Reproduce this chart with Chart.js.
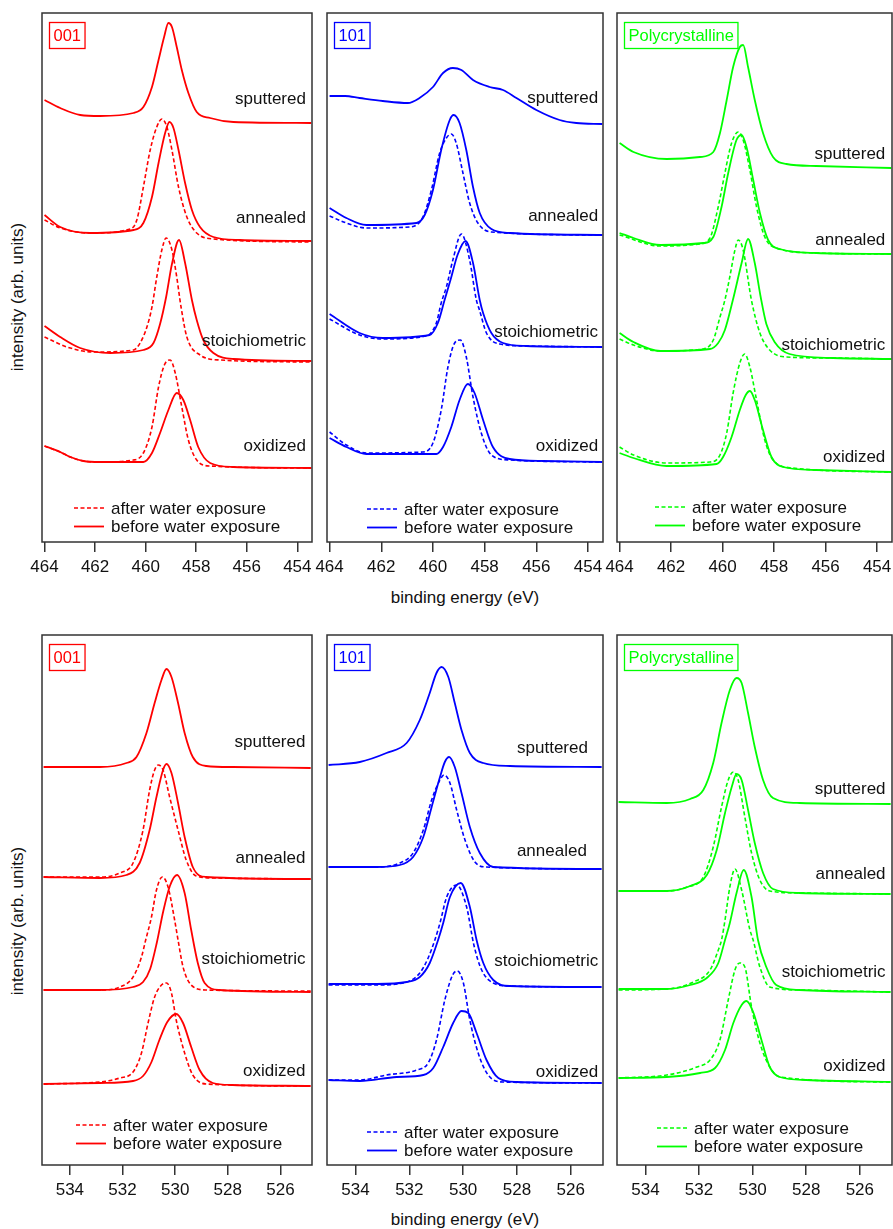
<!DOCTYPE html>
<html>
<head>
<meta charset="utf-8">
<script src="https://cdn.jsdelivr.net/npm/chart.js@4.4.1/dist/chart.umd.min.js"></script>
<style>
  html, body { margin: 0; padding: 0; background: #fff; overflow: hidden; }
  body { width: 893px; height: 1229px; position: relative; font-family: 'Liberation Sans', Arial, sans-serif; }
  canvas { position: absolute; }
  .xtitle, .ytitle { position: absolute; font-size: 17px; color: #111; white-space: nowrap; }
  .xtitle { transform: translate(-50%, -50%); }
  .ytitle { transform: translate(-50%, -50%) rotate(-90deg); }
</style>
</head>
<body>
<div class="ytitle" style="left:18px;top:297px">intensity (arb. units)</div>
<div class="ytitle" style="left:18px;top:921px">intensity (arb. units)</div>
<div class="xtitle" style="left:465px;top:598px">binding energy (eV)</div>
<div class="xtitle" style="left:465px;top:1220px">binding energy (eV)</div>
<script>
const FONT = "'Liberation Sans', Arial, sans-serif";
const RED = '#ff0000', BLUE = '#0000ff', GREEN = '#00ff00';

const tiTicks = [464, 462, 460, 458, 456, 454];
const oTicks = [534, 532, 530, 528, 526];
const sampleNames = ['sputtered', 'annealed', 'stoichiometric', 'oxidized'];
const legendNames = ['after water exposure', 'before water exposure'];

// Ti 2p spectra, [binding energy, intensity incl. offset]
const ti001Sputtered = [[464,442],[463.38,434],[462.59,427],[461.8,426],[460.48,429],[460.09,435],[459.75,455],[459.49,482],[459.27,505],[459.1,519],[458.96,515],[458.77,495],[458.57,472],[458.31,449],[457.98,430],[457.45,424],[456.53,420],[453.45,419]];
const ti001AnnealedBefore = [[464,327],[463.38,315],[462.19,309],[460.48,312],[460.09,319],[459.75,345],[459.49,379],[459.23,409],[459.06,420],[458.9,414],[458.7,392],[458.44,359],[458.17,332],[457.85,315],[457.32,305],[456.26,302],[453.45,301]];
const ti001AnnealedAfter = [[464,322],[463.38,314],[462.19,309],[460.61,313],[460.35,322],[460.09,355],[459.82,392],[459.56,415],[459.36,423],[459.16,415],[458.96,392],[458.7,355],[458.37,325],[457.98,309],[457.32,303],[453.45,300]];
const ti001StoichBefore = [[464,216],[463.38,205],[462.59,194],[461.4,189],[460.09,192],[459.69,199],[459.43,218],[459.19,245],[458.96,278],[458.68,302],[458.44,279],[458.17,242],[457.98,222],[457.72,202],[457.32,189],[456.53,183],[453.45,181]];
const ti001StoichAfter = [[464,205],[463.11,195],[462.06,190],[460.48,192],[460.22,199],[459.95,215],[459.75,235],[459.56,265],[459.36,292],[459.19,304],[458.96,292],[458.77,265],[458.6,235],[458.37,205],[457.85,187],[457.06,182],[453.45,180]];
const ti001OxidizedBefore = [[464,96],[463.38,90],[462.98,85],[462.46,81],[461.8,80],[460.09,80],[459.75,89],[459.43,109],[459.1,132],[458.77,149],[458.51,142],[458.24,122],[457.92,95],[457.45,79],[456.53,75],[453.45,74]];
const ti001OxidizedAfter = [[464,96],[463.38,90],[462.98,85],[462.46,81],[461.8,80],[460.48,82],[460.09,89],[459.75,115],[459.49,155],[459.26,177],[459.03,182],[458.83,169],[458.57,135],[458.31,102],[457.98,82],[457.45,76],[453.45,74]];

const ti101Sputtered = [[464,446],[463.4,446],[462.84,444],[461.94,441],[460.97,439],[460.52,444],[460.0,455],[459.61,469],[459.23,474],[458.9,472],[458.45,462],[457.81,455],[457.29,452],[456.77,444],[456.0,432],[455.1,422],[454.45,419],[453.45,418]];
const ti101AnnealedBefore = [[464,334],[463.35,324],[462.58,317],[460.64,319],[460.32,327],[460.0,352],[459.68,392],[459.35,422],[459.2,427],[458.97,419],[458.71,392],[458.45,355],[458.19,329],[457.74,313],[457.03,309],[453.45,307]];
const ti101AnnealedAfter = [[464,326],[463.35,319],[462.58,314],[460.9,315],[460.39,325],[460.06,352],[459.74,389],[459.48,404],[459.29,408],[459.1,399],[458.84,369],[458.58,339],[458.26,319],[457.74,310],[453.45,307]];
const ti101StoichBefore = [[464,228],[462.84,209],[461.94,204],[460.13,207],[459.81,219],[459.55,242],[459.3,264],[459.05,287],[458.74,301],[458.45,279],[458.19,242],[458.06,229],[457.74,209],[457.29,199],[456.38,196],[453.45,195]];
const ti101StoichAfter = [[464,223],[462.84,207],[461.94,203],[460.26,206],[459.87,219],[459.68,239],[459.48,255],[459.23,282],[458.9,308],[458.58,282],[458.32,242],[458.2,232],[457.93,209],[457.42,198],[456.38,196],[453.45,195]];
const ti101OxidizedBefore = [[464,104],[463.35,95],[462.58,88],[459.87,88],[459.61,95],[459.29,115],[458.97,142],[458.65,158],[458.39,149],[458.06,122],[457.68,95],[457.03,83],[455.74,81],[453.45,80]];
const ti101OxidizedAfter = [[464,110],[463.35,97],[462.58,89],[460.39,90],[460.0,99],[459.68,132],[459.42,175],[459.16,199],[458.94,202],[458.71,185],[458.45,145],[458.13,109],[457.74,87],[457.03,82],[453.45,80]];

const tiPolySputtered = [[464,399],[463.46,390],[462.17,383],[460.88,385],[460.36,390],[460.1,409],[459.84,442],[459.59,475],[459.33,495],[459.2,497],[459.01,475],[458.75,442],[458.43,409],[458.04,385],[457.52,378],[456.36,376],[453.45,374]];
const tiPolyAnnealedBefore = [[464,309],[463.46,304],[462.42,297],[460.75,299],[460.36,305],[460.04,335],[459.78,369],[459.46,402],[459.26,407],[459.07,395],[458.81,362],[458.55,329],[458.23,302],[457.78,293],[456.36,289],[453.45,288]];
const tiPolyAnnealedAfter = [[464,307],[462.42,296],[460.88,298],[460.49,304],[460.17,335],[459.91,369],[459.65,399],[459.39,410],[459.2,402],[458.94,372],[458.68,335],[458.36,305],[457.91,294],[456.36,289],[453.45,288]];
const tiPolyStoichBefore = [[464,209],[463.46,200],[462.42,191],[460.49,193],[460.17,199],[459.91,212],[459.6,242],[459.26,279],[459.01,303],[458.75,279],[458.52,245],[458.3,218],[457.98,200],[457.4,188],[455.72,184],[453.45,183]];
const tiPolyStoichAfter = [[464,203],[463.46,197],[462.42,191],[460.75,193],[460.36,202],[460.1,225],[459.91,242],[459.72,265],[459.52,292],[459.39,302],[459.2,292],[458.88,242],[458.55,209],[458.17,192],[457.52,185],[455.72,184],[453.45,183]];
const tiPolyOxidizedBefore = [[464,89],[463.46,84],[462.17,76],[460.23,78],[459.98,85],[459.65,105],[459.33,132],[459.1,147],[458.94,151],[458.75,142],[458.43,112],[458.1,85],[457.65,75],[456.36,72],[453.45,70]];
const tiPolyOxidizedAfter = [[464,95],[463.46,87],[462.17,79],[460.49,80],[460.1,87],[459.84,109],[459.59,149],[459.33,179],[459.14,188],[458.94,175],[458.68,142],[458.36,102],[458.04,82],[457.27,74],[453.45,70]];

// O 1s spectra
const o001Sputtered = [[535,398],[532.86,398],[531.85,402],[531.47,408],[531.09,432],[530.78,462],[530.52,485],[530.33,496],[530.14,488],[529.89,462],[529.64,432],[529.33,408],[528.82,399],[527.81,398],[524.85,397]];
const o001AnnealedBefore = [[535,288],[532.86,287],[531.85,290],[531.35,302],[530.97,335],[530.71,368],[530.46,395],[530.33,401],[530.14,392],[529.89,362],[529.64,328],[529.33,298],[528.82,288],[524.85,286]];
const o001AnnealedAfter = [[535,288],[532.86,288],[532.1,292],[531.6,302],[531.22,335],[530.97,375],[530.78,395],[530.65,400],[530.46,395],[530.21,368],[529.89,335],[529.58,305],[529.2,289],[528.44,287],[524.85,286]];
const o001StoichBefore = [[535,175],[532.86,175],[531.6,178],[531.22,183],[530.95,196],[530.7,222],[530.45,254],[530.2,279],[529.93,290],[529.64,272],[529.39,235],[529.14,202],[528.88,182],[528.31,175],[524.85,173]];
const o001StoichAfter = [[535,175],[532.86,175],[532.1,178],[531.6,188],[531.28,208],[531.12,225],[530.9,248],[530.71,275],[530.49,288],[530.27,278],[530.02,245],[529.89,225],[529.7,198],[529.39,180],[528.82,175],[524.85,174]];
const o001OxidizedBefore = [[535,81],[532.86,82],[531.6,84],[531.22,89],[530.9,103],[530.6,125],[530.3,143],[529.96,151],[529.7,142],[529.39,118],[529.07,95],[528.57,82],[527.81,80],[524.85,79]];
const o001OxidizedAfter = [[535,81],[532.86,83],[532.1,87],[531.6,93],[531.28,112],[531.03,142],[530.78,168],[530.52,180],[530.33,182],[530.14,172],[529.96,145],[529.64,112],[529.33,90],[528.82,81],[524.85,79]];

const o101Sputtered = [[535,400],[533.84,403],[532.85,412],[532.1,422],[531.61,445],[531.24,472],[530.99,492],[530.8,498],[530.55,488],[530.31,462],[530.06,435],[529.75,412],[529.25,402],[528.26,399],[524.85,398]];
const o101AnnealedBefore = [[535,298],[533.22,298],[532.35,300],[531.86,308],[531.48,328],[531.17,358],[530.86,388],[530.68,403],[530.52,408],[530.31,398],[530.06,372],[529.75,338],[529.38,312],[528.88,298],[524.85,296]];
const o101AnnealedAfter = [[535,298],[533.22,298],[532.35,302],[531.86,312],[531.48,335],[531.17,365],[530.86,385],[530.71,390],[530.49,382],[530.24,355],[529.93,325],[529.56,303],[529.13,298],[524.85,296]];
const o101StoichBefore = [[535,181],[533.22,181],[532.1,183],[531.61,188],[531.24,202],[530.93,225],[530.74,242],[530.49,268],[530.09,282],[529.75,258],[529.5,225],[529.25,202],[528.88,185],[528.26,179],[524.85,178]];
const o101StoichAfter = [[535,180],[533.22,180],[532.1,183],[531.61,192],[531.3,207],[531.05,225],[530.86,242],[530.61,268],[530.24,280],[529.87,258],[529.6,220],[529.31,195],[528.88,182],[528.26,179],[524.85,178]];
const o101OxidizedBefore = [[535,85],[533.84,84],[532.47,88],[531.48,90],[531.11,97],[530.74,118],[530.37,142],[530.06,154],[529.81,152],[529.5,132],[529.13,105],[528.69,87],[528.01,83],[524.85,82]];
const o101OxidizedAfter = [[535,85],[533.84,85],[532.85,90],[531.73,95],[531.3,102],[530.99,125],[530.68,165],[530.39,190],[530.22,194],[529.99,182],[529.75,145],[529.44,112],[529.07,90],[528.51,83],[524.85,82]];

const oPolySputtered = [[535,363],[533.2,362],[532.33,366],[531.84,375],[531.47,402],[531.16,442],[530.85,475],[530.6,487],[530.41,482],[530.17,452],[529.92,418],[529.61,385],[529.24,367],[528.25,362],[524.85,361]];
const oPolyAnnealedBefore = [[535,274],[533.2,274],[532.33,279],[531.71,290],[531.34,315],[531.03,352],[530.78,378],[530.6,391],[530.41,385],[530.17,355],[529.92,322],[529.61,292],[529.24,276],[528.25,272],[524.85,271]];
const oPolyAnnealedAfter = [[535,274],[533.2,274],[532.45,278],[531.84,288],[531.47,318],[531.16,358],[530.91,385],[530.72,393],[530.54,385],[530.29,348],[530.04,312],[529.73,285],[529.36,274],[528.25,272],[524.85,271]];
const oPolyStoichBefore = [[535,176],[533.2,176],[532.33,180],[531.71,187],[531.28,202],[531.03,225],[530.85,242],[530.6,272],[530.33,295],[530.04,268],[529.8,225],[529.49,198],[529.12,180],[528.25,175],[524.85,173]];
const oPolyStoichAfter = [[535,175],[533.2,176],[532.21,183],[531.59,195],[531.28,215],[531.16,225],[531.03,245],[530.85,278],[530.66,296],[530.41,275],[530.1,235],[529.98,225],[529.73,198],[529.36,178],[528.25,175],[524.85,173]];
const oPolyOxidizedBefore = [[535,87],[533.2,88],[531.96,92],[531.4,97],[531.03,115],[530.72,142],[530.41,160],[530.23,164],[529.98,153],[529.67,125],[529.36,98],[528.99,88],[528.0,85],[524.85,83]];
const oPolyOxidizedAfter = [[535,87],[533.2,90],[532.08,98],[531.59,105],[531.22,125],[530.91,165],[530.66,195],[530.48,202],[530.29,198],[530.04,158],[529.73,122],[529.36,98],[528.99,88],[524.85,83]];

const tiRange = [453.42, 464.1];
const oRange = [524.8, 535.06];

// frame = [left, top, right, bottom] in page pixels
const panelSetup = [
  { facet: '001', color: RED, frame: [42, 13, 312, 542], xRange: tiRange, xTicks: tiTicks,
    before: [ti001Sputtered, ti001AnnealedBefore, ti001StoichBefore, ti001OxidizedBefore],
    after: [null, ti001AnnealedAfter, ti001StoichAfter, ti001OxidizedAfter],
    labelAt: [[453.66, 443], [453.66, 324], [453.66, 201], [453.66, 96]], legendAt: [32, 34] },
  { facet: '101', color: BLUE, frame: [327, 13, 603, 542], xRange: tiRange, xTicks: tiTicks,
    before: [ti101Sputtered, ti101AnnealedBefore, ti101StoichBefore, ti101OxidizedBefore],
    after: [null, ti101AnnealedAfter, ti101StoichAfter, ti101OxidizedAfter],
    labelAt: [[453.61, 444], [453.61, 326], [453.61, 210], [453.61, 96]], legendAt: [40, 33] },
  { facet: 'Polycrystalline', color: GREEN, frame: [617, 13, 892, 542], xRange: tiRange, xTicks: tiTicks,
    before: [tiPolySputtered, tiPolyAnnealedBefore, tiPolyStoichBefore, tiPolyOxidizedBefore],
    after: [null, tiPolyAnnealedAfter, tiPolyStoichAfter, tiPolyOxidizedAfter],
    labelAt: [[453.68, 388], [453.68, 302], [453.68, 197], [453.68, 85]], legendAt: [38, 35] },
  { facet: '001', color: RED, frame: [42, 635, 312, 1165], xRange: oRange, xTicks: oTicks,
    before: [o001Sputtered, o001AnnealedBefore, o001StoichBefore, o001OxidizedBefore],
    after: [null, o001AnnealedAfter, o001StoichAfter, o001OxidizedAfter],
    labelAt: [[525.05, 423], [525.05, 307], [525.05, 206], [525.05, 94]], legendAt: [34, 40] },
  { facet: '101', color: BLUE, frame: [327, 635, 603, 1165], xRange: oRange, xTicks: oTicks,
    before: [o101Sputtered, o101AnnealedBefore, o101StoichBefore, o101OxidizedBefore],
    after: [null, o101AnnealedAfter, o101StoichAfter, o101OxidizedAfter],
    labelAt: [[525.36, 417], [525.4, 314], [524.98, 204], [524.98, 93]], legendAt: [40, 33] },
  { facet: 'Polycrystalline', color: GREEN, frame: [617, 635, 892, 1165], xRange: oRange, xTicks: oTicks,
    before: [oPolySputtered, oPolyAnnealedBefore, oPolyStoichBefore, oPolyOxidizedBefore],
    after: [null, oPolyAnnealedAfter, oPolyStoichAfter, oPolyOxidizedAfter],
    labelAt: [[525.04, 376], [525.04, 291], [525.04, 193], [525.04, 99]], legendAt: [40, 37] },
];

const PAD_X = 24, PAD_TOP = 4, AXIS_H = 40;
const DASH = [4, 2.5];

// frame, facet box, sample names and legend
const decorPlugin = {
  id: 'decor',
  afterDatasetsDraw(chart, args, opts) {
    const { ctx, chartArea: a } = chart;
    const x = chart.scales.x, y = chart.scales.y;
    ctx.save();
    ctx.strokeStyle = '#333';
    ctx.lineWidth = 1.5;
    ctx.strokeRect(a.left, a.top, a.right - a.left, a.bottom - a.top);

    // facet box
    ctx.font = '16.5px ' + FONT;
    const tw = ctx.measureText(opts.facet).width;
    const bx = a.left + 7.5, by = a.top + 9.5;
    ctx.strokeStyle = opts.color;
    ctx.lineWidth = 1.3;
    ctx.strokeRect(bx, by, tw + 8, 26);
    ctx.fillStyle = opts.color;
    ctx.textBaseline = 'middle';
    ctx.textAlign = 'left';
    ctx.fillText(opts.facet, bx + 4, by + 14);

    // sample names
    ctx.font = '17px ' + FONT;
    ctx.fillStyle = '#111';
    ctx.textAlign = 'right';
    opts.labelAt.forEach((p, i) => {
      ctx.fillText(sampleNames[i], x.getPixelForValue(p[0]), y.getPixelForValue(p[1]));
    });

    // legend
    ctx.textAlign = 'left';
    const lx = a.left + opts.legendAt[0];
    legendNames.forEach((name, i) => {
      const ly = a.bottom - opts.legendAt[1] + i * 18.5;
      ctx.strokeStyle = opts.color;
      ctx.lineWidth = i === 0 ? 1.6 : 1.8;
      ctx.setLineDash(i === 0 ? DASH : []);
      ctx.beginPath();
      ctx.moveTo(lx, ly);
      ctx.lineTo(lx + 30, ly);
      ctx.stroke();
      ctx.setLineDash([]);
      ctx.fillStyle = '#111';
      ctx.fillText(name, lx + 37, ly + 1);
    });
    ctx.restore();
  }
};

panelSetup.forEach((p) => {
  const [fl, ft, fr, fb] = p.frame;
  const canvas = document.createElement('canvas');
  canvas.width = fr - fl + 2 * PAD_X;
  canvas.height = PAD_TOP + (fb - ft) + AXIS_H;
  canvas.style.left = (fl - PAD_X) + 'px';
  canvas.style.top = (ft - PAD_TOP) + 'px';
  document.body.appendChild(canvas);

  const datasets = [];
  p.before.forEach((curve, i) => {
    if (p.after[i]) {
      datasets.push({
        label: legendNames[0], data: p.after[i], borderColor: p.color,
        borderWidth: 1.6, borderDash: DASH, pointRadius: 0, fill: false,
        cubicInterpolationMode: 'monotone',
      });
    }
    datasets.push({
      label: legendNames[1], data: curve, borderColor: p.color,
      borderWidth: 1.8, pointRadius: 0, fill: false,
      cubicInterpolationMode: 'monotone',
    });
  });

  new Chart(canvas, {
    type: 'line',
    data: { datasets },
    plugins: [decorPlugin],
    options: {
      responsive: false,
      animation: false,
      layout: { padding: { left: PAD_X, right: PAD_X, top: PAD_TOP, bottom: 0 } },
      scales: {
        x: {
          type: 'linear',
          reverse: true,
          min: p.xRange[0],
          max: p.xRange[1],
          afterBuildTicks: (s) => { s.ticks = p.xTicks.map((v) => ({ value: v })); },
          afterFit: (s) => { s.height = AXIS_H; },
          grid: { drawOnChartArea: false, drawTicks: true, tickLength: 10, color: '#333', lineWidth: 1.5 },
          border: { display: false },
          ticks: {
            color: '#111', padding: 5, maxRotation: 0, autoSkip: false,
            font: { family: FONT, size: 17 },
            callback: (v) => String(v),
          },
        },
        y: { display: false, min: 0, max: fb - ft },
      },
      plugins: {
        legend: { display: false },
        tooltip: { enabled: false },
        decor: { facet: p.facet, color: p.color, labelAt: p.labelAt, legendAt: p.legendAt },
      },
    },
  });
});
</script>
</body>
</html>
